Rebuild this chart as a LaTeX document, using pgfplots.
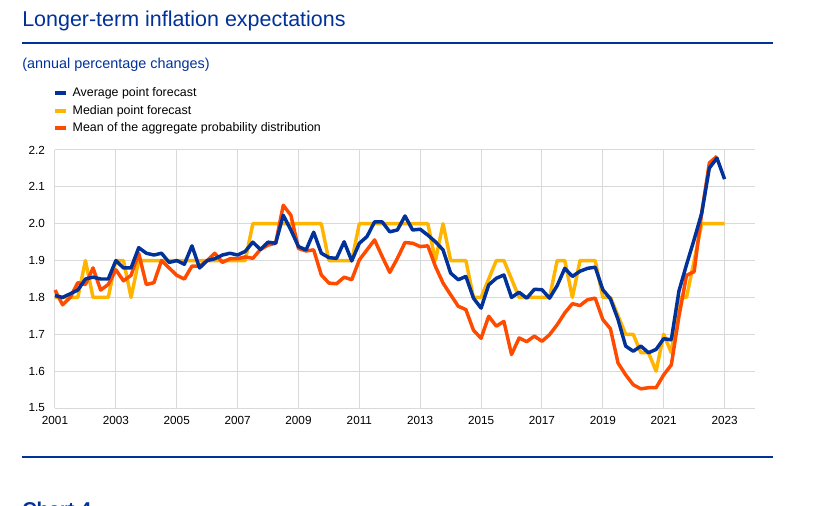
\documentclass[border=0pt]{standalone}
\usepackage{pgfplots}
\usepackage{pgfplotstable}
\pgfplotsset{compat=1.18}
\usepackage{fontspec}
\setmainfont{Liberation Sans}
\definecolor{ecbblue}{RGB}{0,50,153}
\definecolor{ecbyellow}{RGB}{255,180,0}
\definecolor{ecborange}{RGB}{255,75,0}
\definecolor{gridgray}{RGB}{217,217,217}

\pgfplotstableread{
year avg med
2001.00 1.805 1.80
2001.25 1.800 1.80
2001.50 1.810 1.80
2001.75 1.820 1.80
2002.00 1.850 1.90
2002.25 1.855 1.80
2002.50 1.850 1.80
2002.75 1.850 1.80
2003.00 1.900 1.90
2003.25 1.880 1.90
2003.50 1.880 1.80
2003.75 1.935 1.90
2004.00 1.920 1.90
2004.25 1.915 1.90
2004.50 1.920 1.90
2004.75 1.895 1.90
2005.00 1.900 1.90
2005.25 1.890 1.90
2005.50 1.940 1.90
2005.75 1.880 1.90
2006.00 1.900 1.90
2006.25 1.905 1.90
2006.50 1.915 1.90
2006.75 1.920 1.90
2007.00 1.915 1.90
2007.25 1.925 1.90
2007.50 1.950 2.00
2007.75 1.930 2.00
2008.00 1.950 2.00
2008.25 1.947 2.00
2008.50 2.023 2.00
2008.75 1.983 2.00
2009.00 1.938 2.00
2009.25 1.929 2.00
2009.50 1.977 2.00
2009.75 1.920 2.00
2010.00 1.908 1.90
2010.25 1.906 1.90
2010.50 1.951 1.90
2010.75 1.899 1.90
2011.00 1.947 2.00
2011.25 1.965 2.00
2011.50 2.005 2.00
2011.75 2.005 2.00
2012.00 1.978 2.00
2012.25 1.983 2.00
2012.50 2.021 2.00
2012.75 1.983 2.00
2013.00 1.985 2.00
2013.25 1.969 2.00
2013.50 1.951 1.90
2013.75 1.929 2.00
2014.00 1.866 1.90
2014.25 1.848 1.90
2014.50 1.857 1.90
2014.75 1.798 1.80
2015.00 1.771 1.80
2015.25 1.834 1.85
2015.50 1.852 1.90
2015.75 1.861 1.90
2016.00 1.800 1.85
2016.25 1.814 1.80
2016.50 1.798 1.80
2016.75 1.822 1.80
2017.00 1.821 1.80
2017.25 1.798 1.80
2017.50 1.832 1.90
2017.75 1.879 1.90
2018.00 1.857 1.80
2018.25 1.871 1.90
2018.50 1.879 1.90
2018.75 1.882 1.90
2019.00 1.821 1.80
2019.25 1.796 1.80
2019.50 1.740 1.75
2019.75 1.668 1.70
2020.00 1.654 1.70
2020.25 1.668 1.65
2020.50 1.650 1.65
2020.75 1.659 1.60
2021.00 1.688 1.70
2021.25 1.685 1.65
2021.50 1.817 1.80
2021.75 1.889 1.80
2022.00 1.957 1.90
2022.25 2.029 2.00
2022.50 2.151 2.00
2022.75 2.178 2.00
2023.00 2.121 2.00
}\tabA

\pgfplotstableread{
year mean
2001.00 1.820
2001.25 1.780
2001.50 1.800
2001.75 1.840
2002.00 1.835
2002.25 1.880
2002.50 1.820
2002.75 1.835
2003.00 1.875
2003.25 1.845
2003.50 1.860
2003.75 1.920
2004.00 1.835
2004.25 1.840
2004.50 1.900
2004.75 1.880
2005.00 1.860
2005.25 1.850
2005.50 1.885
2005.75 1.885
2006.00 1.900
2006.25 1.920
2006.50 1.895
2006.75 1.905
2007.00 1.905
2007.25 1.910
2007.50 1.906
2007.75 1.930
2008.00 1.942
2008.25 1.947
2008.50 2.050
2008.75 2.023
2009.00 1.933
2009.25 1.926
2009.50 1.929
2009.75 1.861
2010.00 1.839
2010.25 1.837
2010.50 1.855
2010.75 1.848
2011.00 1.902
2011.25 1.929
2011.50 1.956
2011.75 1.911
2012.00 1.868
2012.25 1.906
2012.50 1.949
2012.75 1.947
2013.00 1.938
2013.25 1.940
2013.50 1.884
2013.75 1.839
2014.00 1.807
2014.25 1.776
2014.50 1.767
2014.75 1.711
2015.00 1.689
2015.25 1.749
2015.50 1.722
2015.75 1.735
2016.00 1.645
2016.25 1.690
2016.50 1.680
2016.75 1.695
2017.00 1.681
2017.25 1.699
2017.50 1.726
2017.75 1.758
2018.00 1.783
2018.25 1.778
2018.50 1.794
2018.75 1.798
2019.00 1.740
2019.25 1.715
2019.50 1.622
2019.75 1.590
2020.00 1.563
2020.25 1.552
2020.50 1.555
2020.75 1.555
2021.00 1.590
2021.25 1.617
2021.50 1.748
2021.75 1.860
2022.00 1.870
2022.25 2.030
2022.50 2.165
2022.75 2.183
}\tabB

\begin{document}
\begin{tikzpicture}
\useasboundingbox (0,0) rectangle (613.5pt,-379.5pt);
\begin{scope}[x=0.75pt,y=-0.75pt]
\node[anchor=base west, inner sep=0, text=ecbblue, font=\fontsize{16.1}{19}\selectfont] at (22,27) {Longer-term inflation expectations};
\draw[ecbblue, line width=1.5pt] (22,43) -- (773,43);
\node[anchor=base west, inner sep=0, text=ecbblue, font=\fontsize{10.8}{13}\selectfont] at (22,69) {(annual percentage changes)};
\draw[ecbblue, line width=1.5pt] (22,457) -- (773,457);
\begin{scope}
\clip (0,470) rectangle (818,506);
\node[anchor=base west, inner sep=0, text=ecbblue, font=\bfseries\fontsize{15}{18}\selectfont] at (22,516) {Chart 4};
\end{scope}
\end{scope}
\begin{axis}[
  at={(41.25pt,-306pt)}, anchor=south west,
  scale only axis, width=525pt, height=193.5pt,
  xmin=2001, xmax=2024, ymin=1.5, ymax=2.2,
  xtick={2001,2003,2005,2007,2009,2011,2013,2015,2017,2019,2021,2023},
  ytick={1.5,1.6,1.7,1.8,1.9,2.0,2.1,2.2},
  xticklabel style={/pgf/number format/1000 sep={}, font=\fontsize{8.8}{10}\selectfont, yshift=-3pt},
  yticklabel style={/pgf/number format/fixed, /pgf/number format/precision=1, /pgf/number format/fixed zerofill, font=\fontsize{8.8}{10}\selectfont, xshift=-4pt},
  /pgf/number format/assume math mode=true,
  axis line style={draw=none},
  major tick length=0pt,
  tick style={draw=none},
  grid=major,
  major grid style={gridgray, line width=0.75pt},
  clip=false,
  legend style={at={(axis description cs:-0.0035,1.252)}, anchor=north west, draw=none, fill=none, inner sep=0pt, font=\fontsize{9.3}{11}\selectfont, row sep=0.7pt},
  legend cell align=left,
  legend image code/.code={\draw[line width=3pt] (0pt,0pt) -- (8.25pt,0pt); \path (11.2pt,0pt);},
]
\addlegendimage{ecbblue}
\addlegendentry{Average point forecast}
\addlegendimage{ecbyellow}
\addlegendentry{Median point forecast}
\addlegendimage{ecborange}
\addlegendentry{Mean of the aggregate probability distribution}
\addplot[forget plot, ecbyellow, line width=2.6pt, line join=round] table[x=year,y=med] {\tabA};
\addplot[forget plot, ecborange, line width=2.6pt, line join=round] table[x=year,y=mean] {\tabB};
\addplot[forget plot, ecbblue, line width=2.6pt, line join=round] table[x=year,y=avg] {\tabA};
\end{axis}
\end{tikzpicture}
\end{document}
